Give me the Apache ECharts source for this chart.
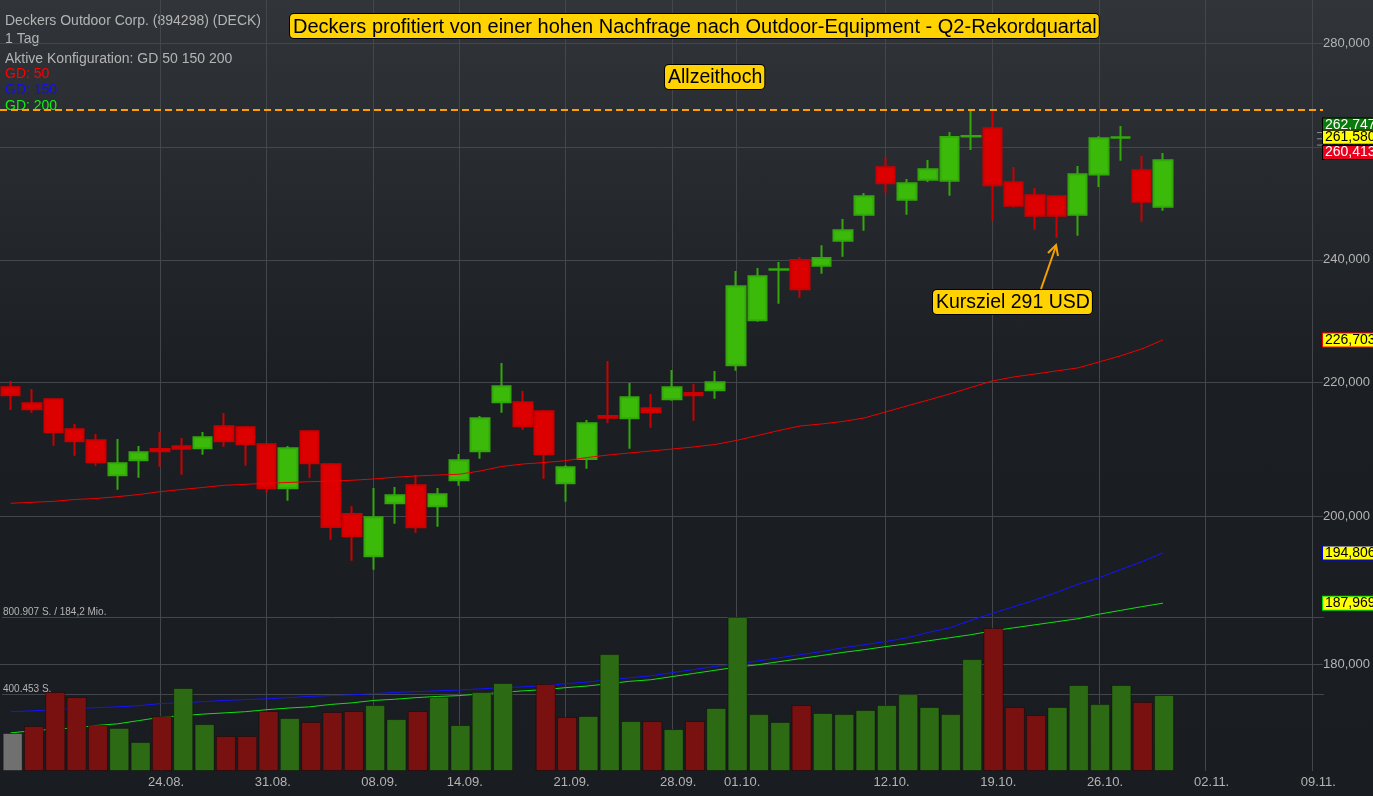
<!DOCTYPE html>
<html><head><meta charset="utf-8">
<script src="https://cdn.jsdelivr.net/npm/echarts@6/dist/echarts.min.js"></script>
<style>
html,body{margin:0;padding:0;}
#c{width:1373px;height:796px;background:linear-gradient(to bottom,#313539 0%,#24282c 28%,#1b1e22 48%,#191c20 100%);}
</style>
</head><body><div id="c"></div>
<script>
// ---------- data (prices in thousand USD) ----------
const dates = ['13.08.','14.08.','17.08.','18.08.','19.08.','20.08.','21.08.','24.08.','25.08.','26.08.','27.08.','28.08.','31.08.',
 '01.09.','02.09.','03.09.','04.09.','08.09.','09.09.','10.09.','11.09.','14.09.','15.09.','16.09.','17.09.','18.09.','21.09.','22.09.','23.09.','24.09.','25.09.','28.09.','29.09.','30.09.',
 '01.10.','02.10.','05.10.','06.10.','07.10.','08.10.','09.10.','12.10.','13.10.','14.10.','15.10.','16.10.','19.10.','20.10.','21.10.','22.10.','23.10.','26.10.','27.10.','28.10.','29.10.','30.10.',
 '02.11.','03.11.','04.11.','05.11.','06.11.','09.11.'];
const labelDates = ['24.08.','31.08.','08.09.','14.09.','21.09.','28.09.','01.10.','12.10.','19.10.','26.10.','02.11.','09.11.'];

const openP = [219.19,216.70,217.32,212.73,211.07,205.88,208.09,209.77,210.17,209.87,213.19,213.03,210.47,203.98,212.43,207.50,200.28,194.35,201.82,204.42,201.39,205.15,209.43,216.86,216.86,215.48,204.71,208.28,214.76,214.40,215.93,217.32,218.30,218.72,222.65,229.88,238.30,239.97,238.99,243.28,247.84,256.34,250.50,254.09,253.91,262.03,263.56,253.62,251.28,251.10,247.84,255.00,261.80,255.80,249.25];
const closeP = [217.94,215.78,212.28,210.92,207.79,207.64,209.28,209.43,209.82,211.52,210.92,210.47,203.98,209.87,207.64,198.44,197.13,199.81,202.97,198.40,203.11,208.09,214.40,219.34,213.19,208.98,207.05,213.64,214.50,217.63,215.32,219.19,217.94,219.97,235.52,237.20,238.38,235.01,240.31,245.09,251.10,253.44,253.44,255.98,261.93,262.12,253.08,249.43,247.66,247.66,255.07,261.69,261.87,250.14,257.62];
const lowP = [215.67,215.26,210.26,208.77,207.29,203.78,205.53,207.14,205.97,208.92,210.11,207.29,203.34,202.19,205.53,196.65,193.74,192.50,198.91,197.64,198.48,204.36,208.33,215.26,212.67,205.38,202.05,206.85,213.64,209.82,212.97,217.11,214.04,217.42,221.79,229.66,232.62,233.61,237.64,240.53,245.03,251.75,247.84,253.67,251.21,259.52,246.78,249.08,245.21,243.80,244.15,252.77,257.55,246.61,248.54];
const highP = [220.17,218.92,217.48,213.54,212.02,211.27,210.22,212.32,211.42,212.32,215.21,213.23,210.67,210.22,212.63,207.69,201.43,204.03,204.17,205.92,204.03,209.02,214.76,223.01,218.61,215.67,207.35,214.14,223.33,219.86,218.14,221.90,219.70,221.75,238.09,238.60,239.62,240.48,242.49,247.07,251.70,258.05,254.22,257.68,262.87,266.88,266.82,256.40,252.59,251.28,256.58,262.06,263.99,258.41,258.96];

const volume = [197600,234000,411000,385000,239000,224000,151000,286000,432000,244000,182000,182000,312000,276000,255000,307000,312000,343000,270000,312000,385000,239000,411000,458000,null,452000,281000,286000,608000,260000,260000,218000,260000,328000,800907,296000,255000,343000,302000,296000,317000,343000,400000,333000,296000,582000,744000,333000,291000,333000,447000,348000,447000,359000,395000];
const volumeDir = [0,-1,-1,-1,-1,1,1,-1,1,1,-1,-1,-1,1,-1,-1,-1,1,1,-1,1,1,1,1,0,-1,-1,1,1,1,-1,1,-1,1,1,1,1,-1,1,1,1,1,1,1,1,1,-1,-1,-1,1,1,1,1,-1,1];

const gd50 = [201.82,201.96,202.10,202.36,202.51,202.77,203.08,203.49,203.81,204.10,204.42,204.56,204.71,204.83,204.94,205.04,205.15,205.34,205.59,205.78,205.92,206.03,206.51,207.17,207.54,207.76,208.03,208.50,208.87,209.17,209.47,209.77,210.07,210.44,211.04,211.79,212.55,213.23,213.54,213.92,214.45,215.37,216.29,217.21,218.14,219.16,220.17,220.80,221.27,221.75,222.22,223.17,224.13,225.24,226.70];
const gd150 = [174.0,174.1,174.25,174.4,174.5,174.6,174.75,175.0,175.1,175.25,175.4,175.5,175.6,175.75,175.9,176.0,176.1,176.25,176.4,176.5,176.6,176.7,176.85,177.0,177.1,177.25,177.5,177.7,178.0,178.25,178.5,178.9,179.3,179.7,180.0,180.4,180.8,181.2,181.6,182.1,182.5,182.9,183.4,184.1,184.7,185.7,186.6,187.5,188.4,189.4,190.5,191.4,192.5,193.6,194.81];
const gd200 = [171.4,171.65,171.85,172.0,172.3,172.5,172.9,173.3,173.5,173.7,173.85,174.0,174.25,174.45,174.6,174.9,175.1,175.4,175.55,175.75,175.9,176.0,176.2,176.4,176.6,176.75,177.0,177.2,177.5,177.8,178.0,178.4,178.8,179.2,179.6,179.9,180.3,180.7,181.1,181.5,181.85,182.25,182.6,183.0,183.4,183.8,184.3,184.7,185.1,185.5,185.9,186.5,187.0,187.5,187.97];

const priceTicks = [180, 200, 220, 240, 260, 280];
const priceMin = 166.81, priceMax = 288.74;
const volumeTicks = [400453, 800907];
const volumeTickLabels = ['400.453 S.', '800.907 S. / 184,2 Mio.'];
const volumeMax = 800907;
const allTimeHigh = 267.0;
const tagValues = [262.747, 261.580, 260.413, 226.703, 194.806, 187.969];

// ---------- styles ----------
const FONT = "'Liberation Sans', Arial, sans-serif";
const GRID = '#43464a';
const TXT = '#b4b4b4';
const tagBg = ['#0a7a0a', '#ffff00', '#e8001c', '#ffff00', '#ffff00', '#ffff00'];
const tagBorder = ['#000', '#000', '#000', '#ff0000', '#0000ff', '#00dd00'];
const tagFill = ['#fff', '#000', '#fff', '#000', '#000', '#000'];
const tagShift = [-7.5, -1.5, 7.5, 0, 0, 0];
const tagTick = [true, true, true, false, false, false];

const L = v => Math.log10(v * 1000);
const fmtComma = v => Math.round(v).toString().replace(/\B(?=(\d{3})+(?!\d))/g, ',');

const candleData = dates.map((d, i) => i < openP.length ? [L(openP[i]), L(closeP[i]), L(lowP[i]), L(highP[i])] : '-');
const volData = dates.map((d, i) => {
  const v = volume[i];
  if (v == null) return '-';
  const dir = volumeDir[i];
  return { value: v, itemStyle: { color: dir > 0 ? '#2c6b14' : dir < 0 ? '#7a1111' : '#707070' } };
});
const lineData = arr => dates.map((d, i) => i < arr.length ? L(arr[i]) : '-');
const showLabel = (idx, val) => labelDates.indexOf(val) >= 0;
const boxStyle = { backgroundColor: '#ffd200', borderColor: '#000', borderWidth: 1, borderRadius: 4, padding: [3, 2, 1, 3] };

const chart = echarts.init(document.getElementById('c'), null, { renderer: 'canvas' });
chart.setOption({
  backgroundColor: 'transparent',
  animation: false,
  textStyle: { fontFamily: FONT },
  grid: [
    { left: 0, right: 49, top: 0, bottom: 25 },
    { left: 0, right: 49, top: 617, bottom: 25 }
  ],
  xAxis: [{
    type: 'category', data: dates, gridIndex: 0, boundaryGap: true,
    axisLine: { show: false }, axisTick: { show: false },
    axisLabel: { interval: showLabel, color: TXT, fontSize: 13, fontFamily: FONT, margin: 5, padding: [0, 0, 0, 12] },
    splitLine: { show: true, interval: showLabel, alignWithLabel: true, lineStyle: { color: GRID, width: 1 } }
  }, {
    type: 'category', data: dates, gridIndex: 1, boundaryGap: true, show: false,
    axisLine: { show: false }, axisTick: { show: false }, axisLabel: { show: false }, splitLine: { show: false }
  }],
  yAxis: [{
    type: 'value', gridIndex: 0, position: 'right', min: L(priceMin), max: L(priceMax), scale: true,
    axisLine: { show: false },
    axisTick: { show: false, customValues: priceTicks.map(L) },
    axisLabel: { customValues: priceTicks.map(L), color: TXT, fontSize: 13, fontFamily: FONT, margin: 0,
      formatter: v => fmtComma(Math.pow(10, v)) },
    splitLine: { show: true, lineStyle: { color: GRID, width: 1 } }
  }, {
    type: 'value', gridIndex: 1, position: 'left', min: 0, max: volumeMax,
    axisLine: { show: false },
    axisTick: { show: false, customValues: volumeTicks },
    axisLabel: { inside: true, customValues: volumeTicks, color: TXT, fontSize: 10, fontFamily: FONT, margin: 1,
      verticalAlign: 'bottom', formatter: v => volumeTickLabels[volumeTicks.indexOf(v)] || '' },
    splitLine: { show: true, lineStyle: { color: GRID, width: 1 } }
  }],
  series: [{
    name: 'GD 150', type: 'line', xAxisIndex: 0, yAxisIndex: 0, z: 2, data: lineData(gd150),
    symbol: 'none', lineStyle: { color: '#1414ff', width: 1 }, silent: true
  }, {
    name: 'GD 200', type: 'line', xAxisIndex: 0, yAxisIndex: 0, z: 2, data: lineData(gd200),
    symbol: 'none', lineStyle: { color: '#10e010', width: 1 }, silent: true
  }, {
    name: 'Volumen', type: 'bar', xAxisIndex: 1, yAxisIndex: 1, z: 3, data: volData, barWidth: 20,
    itemStyle: { borderColor: 'rgba(0,0,0,0.35)', borderWidth: 1 }, silent: true
  }, {
    name: 'Kurs', type: 'candlestick', xAxisIndex: 0, yAxisIndex: 0, z: 4, data: candleData, barWidth: 19,
    itemStyle: { color: '#3cba0a', color0: '#dd0000', borderColor: '#33a80b', borderColor0: '#cc0000', borderWidth: 2 },
    silent: true
  }, {
    name: 'GD 50', type: 'line', xAxisIndex: 0, yAxisIndex: 0, z: 5, data: lineData(gd50),
    symbol: 'none', lineStyle: { color: '#ee0000', width: 1 }, silent: true,
    markLine: {
      silent: true, symbol: 'none', label: { show: false }, precision: 8,
      lineStyle: { color: '#ffa000', type: [7, 4], width: 2 },
      data: [{ yAxis: L(allTimeHigh) }]
    }
  }, {
    name: 'Tags', type: 'custom', xAxisIndex: 0, yAxisIndex: 0, z: 20, clip: false, silent: true,
    data: tagValues.map(v => [0, L(v)]),
    renderItem: (params, api) => {
      const i = params.dataIndex;
      const y = api.coord([0, api.value(1)])[1];
      const cs = params.coordSys;
      const x = cs.x + cs.width;
      const children = [];
      if (tagTick[i]) children.push({ type: 'line', shape: { x1: x - 6, y1: y, x2: x, y2: y }, style: { stroke: '#8c8c8c', lineWidth: 1 } });
      children.push({
        type: 'text', x: x, y: y + tagShift[i],
        style: { text: fmtComma(tagValues[i] * 1000), fill: tagFill[i], font: '14px ' + FONT, lineHeight: 13,
          backgroundColor: tagBg[i], borderColor: tagBorder[i], borderWidth: 1, padding: [0, 2, 0, 2],
          align: 'left', verticalAlign: 'middle' }
      });
      return { type: 'group', children };
    }
  }],
  graphic: [
    { type: 'text', left: 5, top: 14, style: { text: 'Deckers Outdoor Corp. (894298) (DECK)', fill: TXT, font: '14px ' + FONT } },
    { type: 'text', left: 5, top: 32, style: { text: '1 Tag', fill: TXT, font: '14px ' + FONT } },
    { type: 'text', left: 5, top: 52, style: { text: 'Aktive Konfiguration: GD 50 150 200', fill: TXT, font: '14px ' + FONT } },
    { type: 'text', left: 5, top: 67, style: { text: 'GD: 50', fill: '#ff0000', font: '14px ' + FONT } },
    { type: 'text', left: 5, top: 83, style: { text: 'GD: 150', fill: '#1010ee', font: '14px ' + FONT } },
    { type: 'text', left: 5, top: 99, style: { text: 'GD: 200', fill: '#11ee11', font: '14px ' + FONT } },
    { type: 'text', left: 289, top: 13, z: 30, style: Object.assign({ text: 'Deckers profitiert von einer hohen Nachfrage nach Outdoor-Equipment - Q2-Rekordquartal', fill: '#000', font: '20px ' + FONT }, boxStyle) },
    { type: 'text', left: 664, top: 64, z: 30, style: Object.assign({ text: 'Allzeithoch', fill: '#000', font: '19.5px ' + FONT }, boxStyle) },
    { type: 'text', left: 932, top: 289, z: 30, style: Object.assign({ text: 'Kursziel 291 USD', fill: '#000', font: '19.5px ' + FONT }, boxStyle) },
    { type: 'polyline', z: 30, shape: { points: [[1041, 289], [1056, 246]] }, style: { stroke: '#f5a000', lineWidth: 2, fill: null } },
    { type: 'polyline', z: 30, shape: { points: [[1048, 253], [1056, 245], [1058, 256]] }, style: { stroke: '#f5a000', lineWidth: 2, fill: null } }
  ]
});
</script>
</body></html>
